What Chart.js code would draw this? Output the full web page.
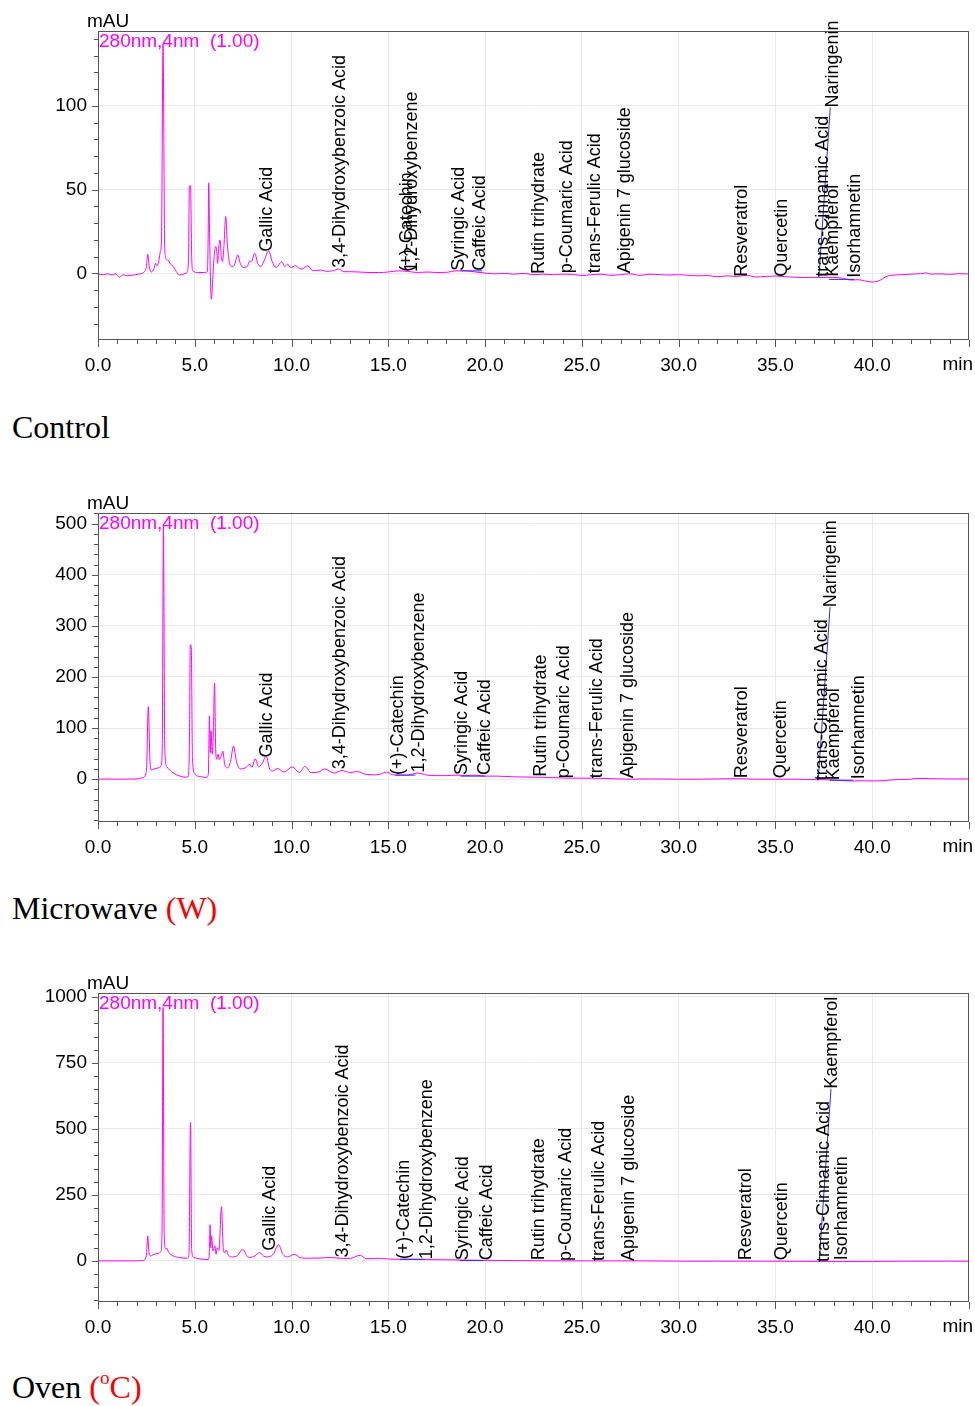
<!DOCTYPE html>
<html><head><meta charset="utf-8">
<script src="https://cdn.jsdelivr.net/npm/chart.js@4.4.0/dist/chart.umd.min.js"></script>
<style>
body{margin:0;background:#fff;width:975px;height:1406px;position:relative;overflow:hidden;font-family:"Liberation Sans",Arial,sans-serif}
canvas.pane{position:absolute;left:0;width:975px;height:400px}
.title{position:absolute;left:12px;font-family:"Liberation Serif","Times New Roman",serif;font-size:32px;color:#000;line-height:32px;white-space:nowrap}
.red{color:#ff0000}
.red sup{font-size:0.6em;vertical-align:0;position:relative;top:-0.75em}
</style></head><body>
<canvas id="c1" class="pane" width="975" height="400" style="top:0px"></canvas>
<canvas id="c2" class="pane" width="975" height="400" style="top:482px"></canvas>
<canvas id="c3" class="pane" width="975" height="400" style="top:962px"></canvas>
<div class="title" style="top:411px">Control</div>
<div class="title" style="top:892px">Microwave <span class="red">(W)</span></div>
<div class="title" style="top:1371px">Oven <span class="red">(<sup>o</sup>C)</span></div>
<script>
// ---------- DATA ----------
const xTicks = [0, 5, 10, 15, 20, 25, 30, 35, 40];

// Control (280 nm)
const times1 = [0,0.3,0.5,0.7,0.9,1.1,1.3,1.5,1.8,2.1,2.35,2.5,2.57,2.65,2.75,2.9,2.97,3.05,3.15,3.22,3.28,3.36,3.44,3.5,3.6,3.75,3.9,4.05,4.2,4.4,4.6,4.68,4.72,4.78,4.84,4.9,5.2,5.5,5.65,5.69,5.72,5.77,5.82,5.86,5.92,6.0,6.07,6.13,6.18,6.23,6.3,6.37,6.43,6.5,6.6,6.68,6.78,6.9,7.05,7.22,7.35,7.5,7.7,7.85,7.92,8.1,8.25,8.4,8.6,8.82,9.0,9.2,9.5,9.65,9.8,9.95,10.2,10.5,10.85,11.1,11.5,11.8,12.1,12.43,12.7,13.0,13.5,14.0,14.5,15.0,15.5,16.0,16.5,17.0,17.5,18.0,18.5,19.0,19.5,20.0,20.5,21,21.5,22,22.5,23,23.5,24,24.5,25,25.5,26,26.5,27,27.5,28,28.5,29,29.5,30,30.5,31,31.5,32,32.5,33,33.5,34,34.5,35,35.5,36,36.5,37,37.5,38,38.5,38.9,39.3,39.6,40.0,40.4,40.7,41.0,41.5,42,42.5,42.8,43,43.5,44,44.5,45];
const mau1 = [-0.5,-0.8,-0.2,-1.0,-0.3,-2.3,-0.8,-1.5,-1.0,-0.5,0.5,4,11.5,4,0.8,3,6,4.5,8,13,20,137,20,9,8,5.5,4,1,-1,-0.5,0.5,10,52,52.5,10,1.5,0.5,0.5,1,20,54,20,-8,-15.5,-5,10,16,14,6,14,20,10,7,15,34,18,7,4,5,11,6,3.5,4,7.5,7,12,6,4,8,13.5,7,3.5,7,4,5.5,3.5,4.5,2.5,4.5,1.5,2,1.2,1.5,2.6,1,1,0.8,0.5,0.5,0.8,1.5,1.2,0.5,0.8,0.5,0.6,1.5,1.5,0.8,0.2,-0.3,0,-0.5,0,-0.8,-0.5,-0.8,-0.5,-0.6,-1.3,-0.8,-0.5,-1.2,-0.8,-0.3,-1.2,-0.5,-0.8,-1,-0.8,-1.2,-1.5,-1.3,-2,-1.5,-1.8,-1.2,-2.2,-1.8,-1.6,-2,-2.3,-2.5,-2.4,-2.4,-2.4,-3,-4,-3.8,-4.5,-5.2,-4.2,-2,-1.2,-0.8,-0.5,-0.2,0.3,-0.5,-0.3,-0.6,-0.2,-0.4];
const blueT1 = [[18.73, 19.85], [37.25, 37.83], [37.77, 39.06]];
const blueV1 = [[1.5, 1.5], [-2, 99], [-3.6, -3.6]];
const names1 = ["Gallic Acid","3,4-Dihydroxybenzoic Acid","(+)-Catechin","1,2-Dihydroxybenzene","Syringic Acid","Caffeic Acid","Rutin trihydrate","p-Coumaric Acid","trans-Ferulic Acid","Apigenin 7 glucoside","Resveratrol","Quercetin","trans-Cinnamic Acid","Kaempferol","Naringenin","Isorhamnetin"];
const rt1 = [8.72, 12.49, 15.95, 16.2, 18.63, 19.76, 22.77, 24.24, 25.7, 27.24, 33.29, 35.36, 37.46, 37.95, 37.95, 39.13];
const ht1 = [12.9, 3.2, 1, 1, 1.5, 1.5, -0.4, 0, 0, 0, -2, -2, -2, -2, 99, -2.6];
const yTicks1 = [0, 50, 100];

// Microwave (W)
const times2 = [0,0.5,1.0,1.5,2.0,2.3,2.5,2.6,2.68,2.75,2.9,3.1,3.25,3.32,3.38,3.45,3.55,3.7,3.9,4.2,4.5,4.65,4.72,4.77,4.82,4.88,5.0,5.3,5.6,5.7,5.76,5.8,5.84,5.9,5.96,6.02,6.08,6.13,6.2,6.27,6.36,6.45,6.55,6.7,6.85,7.0,7.15,7.35,7.6,7.86,7.95,8.12,8.3,8.5,8.69,8.85,9.0,9.28,9.6,10.05,10.4,10.7,11.0,11.4,11.7,12.2,12.6,13.0,13.4,13.8,14.3,14.6,14.9,15.2,15.5,16.0,16.5,17.0,17.5,18.0,18.5,19.0,19.5,20.0,20.6,21.5,22.5,23.5,24.5,25.5,26.5,27.5,28.5,30,31,32,33,34,35,36,37,37.5,38,38.5,39.0,39.5,40.0,40.5,41,41.5,42,42.3,43,44,45];
const mau2 = [0,0.3,0,0.2,0.5,3,15,142,40,18,20,22,25,60,495,60,25,18,12,6.5,4,5,60,263,258,40,10,5,3.5,10,124,52,95,49,90,188,60,39,49,38,45,55,28,22,35,65,35,20,22,29,23,40,24,32,46,22,16,21,14,24,13,25,13,14,20,12,17,13,15,10,8.4,10,14,9,8,8,12,8,7,7,8,7,8,6,6,4.5,4,3,2,2,1,0,0.5,0,0,0.5,1,0,0,0,-1,-1,-1.5,-3,-3.5,-3,-3.5,-3,-1.5,-0.5,0,1.5,1,0.5,0.5];
const blueT2 = [[15.36, 16.4], [18.73, 20.0], [37.21, 37.82], [37.8, 39.0]];
const blueV2 = [[8, 8], [6, 6], [-2, 336.5], [-2, -2]];
const names2 = ["Gallic Acid","3,4-Dihydroxybenzoic Acid","(+)-Catechin","1,2-Dihydroxybenzene","Syringic Acid","Caffeic Acid","Rutin trihydrate","p-Coumaric Acid","trans-Ferulic Acid","Apigenin 7 glucoside","Resveratrol","Quercetin","trans-Cinnamic Acid","Kaempferol","Naringenin","Isorhamnetin"];
const rt2 = [8.74, 12.49, 15.5, 16.6, 18.8, 20.0, 22.9, 24.1, 25.8, 27.4, 33.29, 35.28, 37.43, 38.05, 37.87, 39.3];
const ht2 = [42.4, 19.6, 8.4, 13, 8.4, 8.4, 5, 2, 2, 2, 2, 2, -2, -2, 336.5, 0];
const yTicks2 = [0, 100, 200, 300, 400, 500];

// Oven (oC)
const times3 = [0,1,2,2.35,2.5,2.57,2.64,2.72,2.9,3.1,3.25,3.31,3.36,3.42,3.5,3.56,3.65,3.85,4.2,4.6,4.7,4.78,4.84,4.95,5.3,5.7,5.75,5.79,5.83,5.87,5.94,6.04,6.1,6.16,6.25,6.38,6.48,6.55,6.62,6.75,6.95,7.2,7.48,7.7,7.85,8.1,8.35,8.55,8.75,9.05,9.33,9.55,9.8,10.14,10.45,10.8,11.5,12.0,12.5,13.0,13.55,13.85,14.5,15.0,15.6,16.5,17.0,18,19,20,21,22,23,24,26,28,30,32,34,36,38,40,42,44,45];
const mau3 = [0,0,0,2,20,95,30,19,25,28,35,120,960,100,45,48,32,20,12.7,10,25,525,40,12.7,7,5,30,137,50,95,38,57,25,50,40,205,40,31,41,20,15,20,44,18,13,18,32,18,15,25,61,25,15,25,12,10,11,12.7,10,9,21.5,8,10,7,6,6,5,4,3,2,1.5,1,0.5,0,0,0,-1,-1,-1,-1.5,-2,-2,-1,-1,-1];
const blueT3 = [[15.6, 16.9], [18.7, 19.9], [37.26, 37.87]];
const blueV3 = [[6, 6], [1, 1], [-4, 652]];
const names3 = ["Gallic Acid","3,4-Dihydroxybenzoic Acid","(+)-Catechin","1,2-Dihydroxybenzene","Syringic Acid","Caffeic Acid","Rutin trihydrate","p-Coumaric Acid","trans-Ferulic Acid","Apigenin 7 glucoside","Resveratrol","Quercetin","trans-Cinnamic Acid","Kaempferol","Isorhamnetin"];
const rt3 = [8.9, 12.67, 15.83, 17.0, 18.88, 20.1, 22.76, 24.2, 25.87, 27.42, 33.47, 35.36, 37.5, 37.9, 38.46];
const ht3 = [38, 12.7, 6, 6, 2.6, 2.6, 2.6, 0, 0, 0, 2.6, 2.6, -4, 652, 2.6];
const yTicks3 = [0, 250, 500, 750, 1000];

// ---------- CHART ----------
const FONT = '"Liberation Sans", Arial, sans-serif';
function makeChart(id, times, vals, blueT, blueV, names, rts, hts, yMin, yMax, yTicks, yMinor) {
  const datasets = [{
    data: times.map((t, i) => ({x: t, y: vals[i]})),
    borderColor: '#ff00ff', borderWidth: 1, pointRadius: 0,
    cubicInterpolationMode: 'monotone', order: 1
  }];
  blueT.forEach((seg, k) => datasets.push({
    data: seg.map((t, i) => ({x: t, y: blueV[k][i]})),
    borderColor: '#2b2bff', borderWidth: 1, pointRadius: 0, tension: 0, order: 0
  }));
  const deco = {
    id: 'deco' + id,
    afterDatasetsDraw(chart) {
      const c = chart.ctx, xs = chart.scales.x, ys = chart.scales.y;
      c.save();
      c.fillStyle = '#000';
      c.font = '18px ' + FONT;
      c.textAlign = 'left';
      c.textBaseline = 'middle';
      names.forEach((n, i) => {
        c.save();
        c.translate(xs.getPixelForValue(rts[i]), ys.getPixelForValue(hts[i]));
        c.rotate(-Math.PI / 2);
        c.fillText(n, 0, 0);
        c.restore();
      });
      c.restore();
    },
    afterDraw(chart) {
      const c = chart.ctx, a = chart.chartArea, xs = chart.scales.x, ys = chart.scales.y;
      c.save();
      c.strokeStyle = '#555';
      c.lineWidth = 1;
      c.strokeRect(Math.round(a.left) + 0.5, Math.round(a.top) + 0.5, Math.round(a.right - a.left) - 1, Math.round(a.bottom - a.top));
      c.beginPath();
      for (let t = 0; t <= 45; t++) {
        const px = Math.round(xs.getPixelForValue(t)) + 0.5;
        const len = (t % 5 === 0) ? 7 : 4;
        c.moveTo(px, a.bottom + 1); c.lineTo(px, a.bottom + 1 + len);
      }
      const start = Math.ceil(yMin / yMinor) * yMinor;
      for (let v = start; v <= yMax; v += yMinor) {
        const py = Math.round(ys.getPixelForValue(v)) + 0.5;
        const major = yTicks.includes(v);
        c.moveTo(a.left - (major ? 6 : 4), py); c.lineTo(a.left, py);
      }
      c.stroke();
      c.font = '19px ' + FONT;
      c.textBaseline = 'alphabetic';
      c.fillStyle = '#000';
      c.textAlign = 'left';
      c.fillText('mAU', 87, 27);
      c.textAlign = 'right';
      c.fillText('min', 973, 370);
      c.fillStyle = '#ff00ff';
      c.textAlign = 'left';
      c.fillText('280nm,4nm  (1.00)', 99, 47);
      c.restore();
    }
  };
  return new Chart(document.getElementById(id), {
    type: 'line',
    data: {datasets},
    plugins: [deco],
    options: {
      responsive: false, animation: false, devicePixelRatio: 1,
      layout: {padding: {top: 31, right: 6, left: 0, bottom: 0}},
      plugins: {legend: {display: false}, tooltip: {enabled: false}},
      scales: {
        x: {
          type: 'linear', min: 0, max: 45,
          afterBuildTicks: s => { s.ticks = xTicks.map(v => ({value: v})); },
          afterFit: s => { s.height = 61; },
          grid: {color: '#e9e9e9', drawTicks: false, lineWidth: 1},
          border: {display: false},
          ticks: {font: {family: FONT, size: 19}, color: '#000', padding: 15, maxRotation: 0, autoSkip: false,
                  callback: v => Number(v).toFixed(1)}
        },
        y: {
          type: 'linear', min: yMin, max: yMax,
          afterBuildTicks: s => { s.ticks = yTicks.map(v => ({value: v})); },
          afterFit: s => { s.width = 98; },
          grid: {color: '#e9e9e9', drawTicks: false, lineWidth: 1},
          border: {display: false},
          ticks: {font: {family: FONT, size: 19}, color: '#000', padding: 11, autoSkip: false,
                  callback: v => String(v)}
        }
      }
    }
  });
}

makeChart('c1', times1, mau1, blueT1, blueV1, names1, rt1, ht1, -39.2, 144.7, yTicks1, 10);
makeChart('c2', times2, mau2, blueT2, blueV2, names2, rt2, ht2, -81.8, 520.8, yTicks2, 20);
makeChart('c3', times3, mau3, blueT3, blueV3, names3, rt3, ht3, -152, 1015, yTicks3, 50);
</script>
</body></html>
